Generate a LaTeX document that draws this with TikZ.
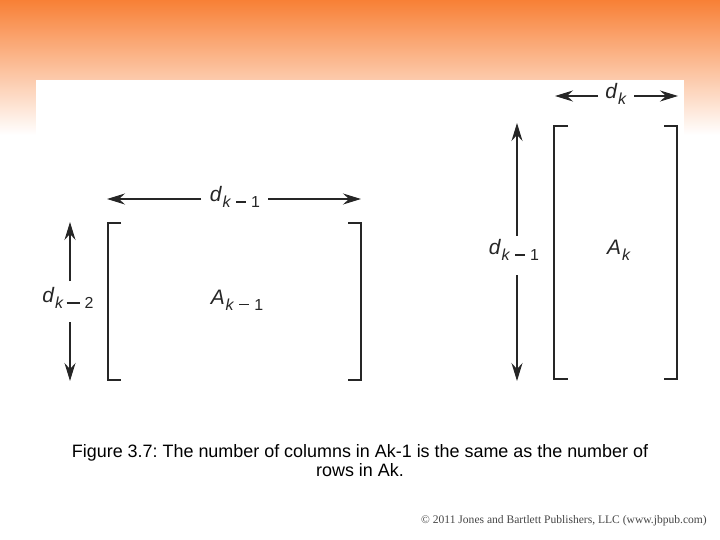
\documentclass[tikz,border=0pt]{standalone}
\usepackage{fontspec}
\setmainfont{Liberation Sans}
\newfontfamily\cprfont{Liberation Serif}
\usetikzlibrary{arrows.meta}
\definecolor{orangetop}{RGB}{248,128,54}
\definecolor{orangemid}{RGB}{251,188,148}
\definecolor{cprgray}{RGB}{70,70,70}
\newcommand\dlab[2]{{\fontsize{21}{21}\selectfont\itshape #1}\kern1bp\raisebox{-6bp}{\fontsize{16}{16}\selectfont #2}}
\newcommand\kmin[1]{\textit{k}\hspace{5bp}\rule[0.3em]{10bp}{1.3bp}\hspace{5bp}#1}
\newcommand\kdash[1]{\textit{k}\hspace{3bp}\rule[0.3em]{13bp}{1.3bp}\hspace{5bp}#1}
\frenchspacing
\tikzset{
  arr/.style={-{Stealth[length=18bp,width=11bp,inset=6bp]}, line width=1.4bp, draw=black!85},
  brk/.style={line width=2.6bp, draw=black!85},
  lab/.style={inner sep=3bp, text=black!85},
  captext/.style={font=\fontsize{18}{20}\selectfont, anchor=base, inner sep=0pt},
}
\begin{document}
\begin{tikzpicture}[x=1bp,y=-1bp]
\useasboundingbox (0,0) rectangle (720,540);
\fill[white] (0,0) rectangle (720,540);
\shade[top color=orangetop, middle color=orangemid, bottom color=white] (0,0) rectangle (720,135);
\fill[white] (36,80) rectangle (684,392);

% left matrix
\draw[brk] (121,223) -- (108,223) -- (108,380) -- (121,380);
\draw[brk] (348,223) -- (361,223) -- (361,380) -- (348,380);
\node[lab] (Akm1) at (237,300) {\dlab{A}{\kmin{1}}};
\node[lab] (dtop) at (235,197) {\dlab{d}{\kmin{1}}};
\coordinate (htl) at (107,199);
\coordinate (htr) at (361,199);
\draw[arr] (201,199) -- (htl);
\draw[arr] (268,199) -- (htr);
\node[lab] (dleft) at (68,298) {\dlab{d}{\kdash{2}}};
\coordinate (vlt) at (70,222);
\coordinate (vlb) at (70,381);
\draw[arr] (70,281) -- (vlt);
\draw[arr] (70,322) -- (vlb);

% right matrix
\draw[brk] (568,126) -- (554,126) -- (554,379) -- (568,379);
\draw[brk] (664,126) -- (677,126) -- (677,379) -- (664,379);
\node[lab] (Ak) at (619,250) {\dlab{A}{\textit{k}}};
\node[lab] (dk) at (616,94) {\dlab{d}{\textit{k}}};
\coordinate (hrl) at (555,96);
\coordinate (hrr) at (678,96);
\draw[arr] (598,96) -- (hrl);
\draw[arr] (634,96) -- (hrr);
\node[lab] (dright) at (514,250) {\dlab{d}{\kmin{1}}};
\coordinate (vrt) at (517,123);
\coordinate (vrb) at (517,381);
\draw[arr] (517,236) -- (vrt);
\draw[arr] (517,275) -- (vrb);

% caption
\node[captext] (cap1) at (360,457)
  {Figure 3.7: The number of columns in Ak-1 is the same as the number of};
\node[captext] (cap2) at (360,476) {rows in Ak.};
\node[font=\cprfont\fontsize{11.6}{13}\selectfont, text=cprgray] (cpr) at (564,521)
  {© 2011 Jones and Bartlett Publishers, LLC (www.jbpub.com)};
\end{tikzpicture}
\end{document}
